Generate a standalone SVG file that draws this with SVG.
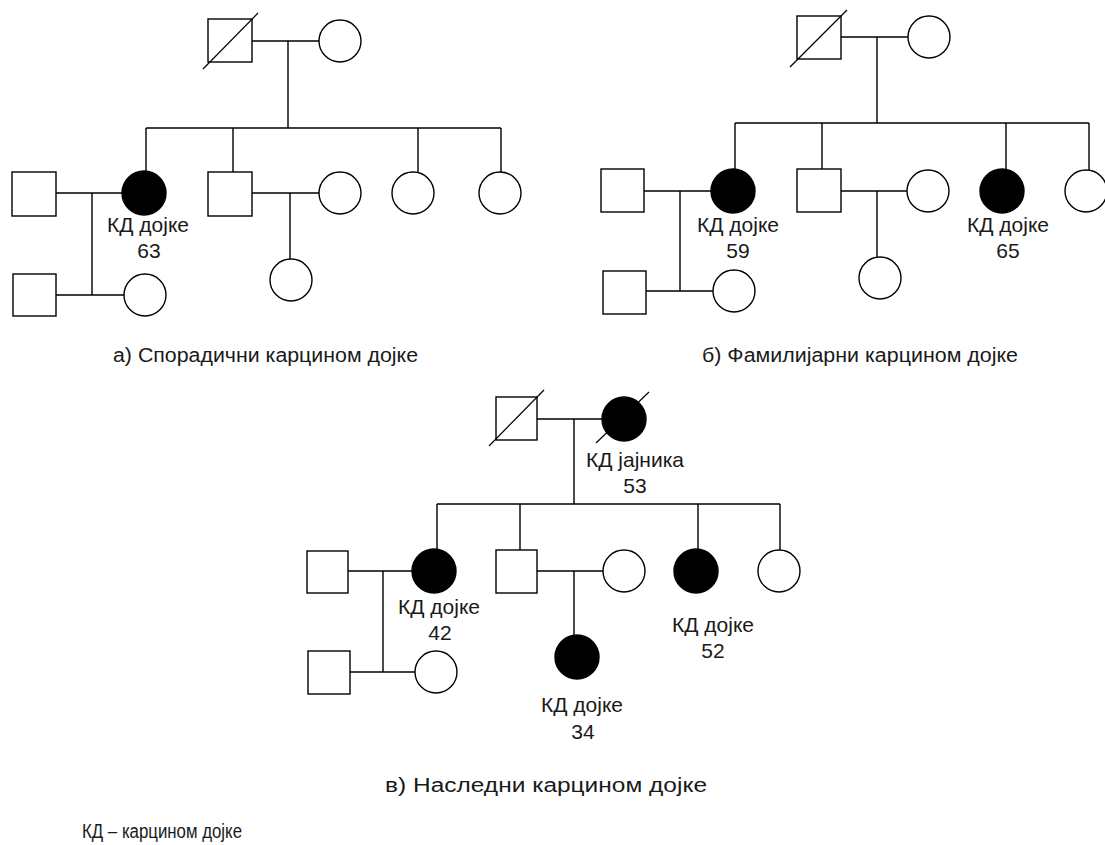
<svg xmlns="http://www.w3.org/2000/svg" width="1105" height="845" viewBox="0 0 1105 845">
<style>
.m{fill:#fff;stroke:#000;stroke-width:1.4}
.f{fill:#fff;stroke:#000;stroke-width:1.4}
.a{fill:#000;stroke:#000;stroke-width:1.4}
.s{stroke:#000;stroke-width:1.2;fill:none}
.c{stroke:#000;stroke-width:1.4;fill:none}
.t{font-family:"Liberation Sans",Arial,sans-serif;font-size:20px;fill:#1a1a1a}
.l{text-anchor:middle;font-size:21px}
</style>
<rect width="1105" height="845" fill="#fff"/>
<g id="connectors">
<path class="c" d="M252 41H319M288 41V128M146 128H501M146 128V171M233 128V172M418 128V172M501 128V172M56 193H122M92 193V295M56 295H124M252 193H319M290 193V259"/>
<path class="c" d="M841 37H908M877 37V123M735 123H1089M735 123V169M822 123V169M1006 123V169M1089 123V170M644 191H711M680 191V291M646 291H713M841 191H907M877 191V257"/>
<path class="c" d="M537 419H602M574 419V504M437 504H780M437 504V549M520 504V550M698 504V549M780 504V550M348 571H412M383 571V672M350 672H415M537 571H603M574 571V635"/>
</g>
<g id="panel-a">
<g id="a-grandfather"><rect class="m" x="208" y="19" width="44" height="43"/><line class="s" x1="203" y1="69" x2="258" y2="13"/></g>
<g id="a-grandmother"><circle class="f" cx="340" cy="41" r="21"/></g>
<g id="a-daughter1"><circle class="a" cx="144" cy="193" r="22"/><text class="t l" x="148" y="232">КД дојке</text><text class="t l" x="149" y="258">63</text></g>
<g id="a-daughter1-spouse"><rect class="m" x="12" y="172" width="44" height="44"/></g>
<g id="a-son"><rect class="m" x="208" y="172" width="44" height="44"/></g>
<g id="a-son-spouse"><circle class="f" cx="340" cy="193" r="21"/></g>
<g id="a-daughter2"><circle class="f" cx="413" cy="193" r="21"/></g>
<g id="a-daughter3"><circle class="f" cx="500" cy="193" r="21"/></g>
<g id="a-grandson"><rect class="m" x="13" y="274" width="43" height="42"/></g>
<g id="a-grandson-spouse"><circle class="f" cx="145" cy="295" r="21"/></g>
<g id="a-granddaughter"><circle class="f" cx="291" cy="280" r="21"/></g>
<text class="t" x="113" y="362" textLength="305" lengthAdjust="spacingAndGlyphs">а) Спорадични карцином дојке</text>
</g>
<g id="panel-b">
<g id="b-grandfather"><rect class="m" x="797" y="16" width="44" height="43"/><line class="s" x1="790" y1="67" x2="847" y2="10"/></g>
<g id="b-grandmother"><circle class="f" cx="929" cy="37" r="21"/></g>
<g id="b-daughter1"><circle class="a" cx="733" cy="191" r="22"/><text class="t l" x="738" y="232">КД дојке</text><text class="t l" x="738" y="258">59</text></g>
<g id="b-daughter1-spouse"><rect class="m" x="601" y="169" width="43" height="43"/></g>
<g id="b-son"><rect class="m" x="797" y="169" width="44" height="43"/></g>
<g id="b-son-spouse"><circle class="f" cx="928" cy="191" r="21"/></g>
<g id="b-daughter2"><circle class="a" cx="1002" cy="191" r="22"/><text class="t l" x="1008" y="232">КД дојке</text><text class="t l" x="1008" y="258">65</text></g>
<g id="b-daughter3"><circle class="f" cx="1086" cy="191" r="21"/></g>
<g id="b-grandson"><rect class="m" x="603" y="271" width="43" height="43"/></g>
<g id="b-grandson-spouse"><circle class="f" cx="734" cy="291" r="21"/></g>
<g id="b-granddaughter"><circle class="f" cx="880" cy="278" r="21"/></g>
<text class="t" x="702" y="362" textLength="316" lengthAdjust="spacingAndGlyphs">б) Фамилијарни карцином дојке</text>
</g>
<g id="panel-c">
<g id="c-grandfather"><rect class="m" x="496" y="397" width="41" height="43"/><line class="s" x1="489" y1="446" x2="544" y2="390"/></g>
<g id="c-grandmother"><circle class="a" cx="624" cy="419" r="22"/><line class="s" x1="596" y1="443" x2="649" y2="392"/><text class="t l" x="635" y="467">КД јајника</text><text class="t l" x="635" y="493">53</text></g>
<g id="c-daughter1"><circle class="a" cx="434" cy="571" r="22"/><text class="t l" x="439" y="614">КД дојке</text><text class="t l" x="440" y="640">42</text></g>
<g id="c-daughter1-spouse"><rect class="m" x="307" y="551" width="41" height="42"/></g>
<g id="c-son"><rect class="m" x="496" y="550" width="41" height="43"/></g>
<g id="c-son-spouse"><circle class="f" cx="624" cy="571" r="21"/></g>
<g id="c-daughter2"><circle class="a" cx="696" cy="571" r="22"/><text class="t l" x="713" y="632">КД дојке</text><text class="t l" x="713" y="658">52</text></g>
<g id="c-daughter3"><circle class="f" cx="779" cy="571" r="21"/></g>
<g id="c-grandson"><rect class="m" x="308" y="651" width="42" height="43"/></g>
<g id="c-grandson-spouse"><circle class="f" cx="436" cy="672" r="21"/></g>
<g id="c-granddaughter"><circle class="a" cx="577" cy="657" r="22"/><text class="t l" x="582" y="712">КД дојке</text><text class="t l" x="583" y="739">34</text></g>
<text class="t" x="385" y="792" textLength="322" lengthAdjust="spacingAndGlyphs">в) Наследни карцином дојке</text>
</g>
<text id="legend" class="t" x="82" y="838" textLength="160" lengthAdjust="spacingAndGlyphs">КД – карцином дојке</text>
</svg>
